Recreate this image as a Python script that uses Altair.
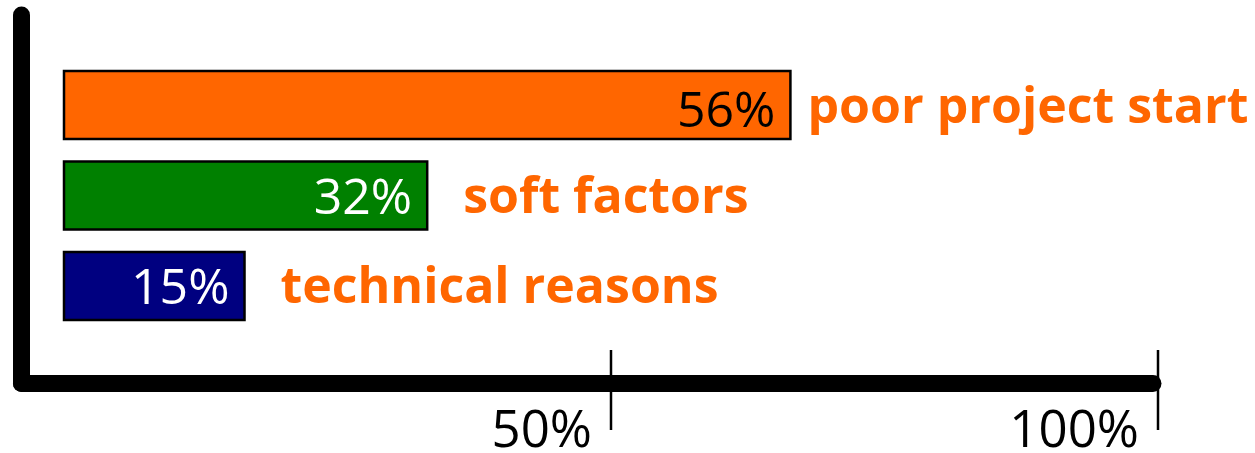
import altair as alt
import pandas as pd

# ---- data ----
categories = ["poor project start", "soft factors", "technical reasons"]
share_labels = ["56%", "32%", "15%"]          # printed inside the bars
drawn_length = [66.4, 33.2, 16.5]             # bar lengths as drawn against the 0-100% axis
bar_colors = ["#FF6600", "#008000", "#000080"]
tick_values = [50, 100]
tick_labels = ["50%", "100%"]

df = pd.DataFrame({"category": categories, "label": share_labels, "value": drawn_length})
ticks = pd.DataFrame({"tick": tick_values, "tlabel": tick_labels})
one = pd.DataFrame({"a": [0]})

FONT = "Open Sans"
ORANGE = "#FF6600"

xscale = alt.Scale(domain=[0, 100], range=[64, 1158], zero=True)
yscale = alt.Scale(domain=categories, range=[71, 320], paddingInner=0.25, paddingOuter=0)

x_enc = alt.X("value:Q", scale=xscale, axis=None)
y_enc = alt.Y("category:N", scale=yscale, axis=None, sort=categories)

base = alt.Chart(df)

bars = base.mark_bar(stroke="black", strokeWidth=2.5, cornerRadius=0).encode(
    x=x_enc,
    x2=alt.datum(0),
    y=y_enc,
    color=alt.Color("category:N", scale=alt.Scale(domain=categories, range=bar_colors), legend=None),
)

pct_top = base.transform_filter(alt.datum.category == categories[0]).mark_text(
    align="right", baseline="alphabetic", dx=-15, dy=22,
    font=FONT, fontSize=50, color="black").encode(
    x=x_enc, y=y_enc, text="label:N")

pct_rest = base.transform_filter(alt.datum.category != categories[0]).mark_text(
    align="right", baseline="alphabetic", dx=-15, dy=18,
    font=FONT, fontSize=50, color="white").encode(
    x=x_enc, y=y_enc, text="label:N")

names_top = base.transform_filter(alt.datum.category == categories[0]).mark_text(
    align="left", baseline="alphabetic", dx=17, dy=18,
    font=FONT, fontSize=50, fontWeight="bold", color=ORANGE).encode(
    x=x_enc, y=y_enc, text="category:N")

names_rest = base.transform_filter(alt.datum.category != categories[0]).mark_text(
    align="left", baseline="alphabetic", dx=36, dy=17,
    font=FONT, fontSize=50, fontWeight="bold", color=ORANGE).encode(
    x=x_enc, y=y_enc, text="category:N")

vaxis = alt.Chart(one).mark_rule(color="black", strokeWidth=17, strokeCap="round").encode(
    x=alt.value(21.5), y=alt.value(15), y2=alt.value(383.5))
haxis = alt.Chart(one).mark_rule(color="black", strokeWidth=17, strokeCap="round").encode(
    x=alt.value(21.5), x2=alt.value(1153), y=alt.value(383.5))

tick_rules = alt.Chart(ticks).mark_rule(color="black", strokeWidth=2.5).encode(
    x=alt.X("tick:Q", scale=xscale, axis=None), y=alt.value(350), y2=alt.value(430))

tick_text = alt.Chart(ticks).mark_text(align="right", baseline="alphabetic", dx=-19,
                                       font=FONT, fontSize=51, color="black").encode(
    x=alt.X("tick:Q", scale=xscale, axis=None), y=alt.value(447), text="tlabel:N")

chart = alt.layer(vaxis, haxis, bars, pct_top, pct_rest, names_top, names_rest,
                  tick_rules, tick_text).properties(
    width=1255, height=453, padding=0, autosize=alt.AutoSizeParams(type="none"),
    background="white",
).configure_view(stroke=None)

chart.save("out.html", embed_options={"renderer": "svg", "actions": False})
